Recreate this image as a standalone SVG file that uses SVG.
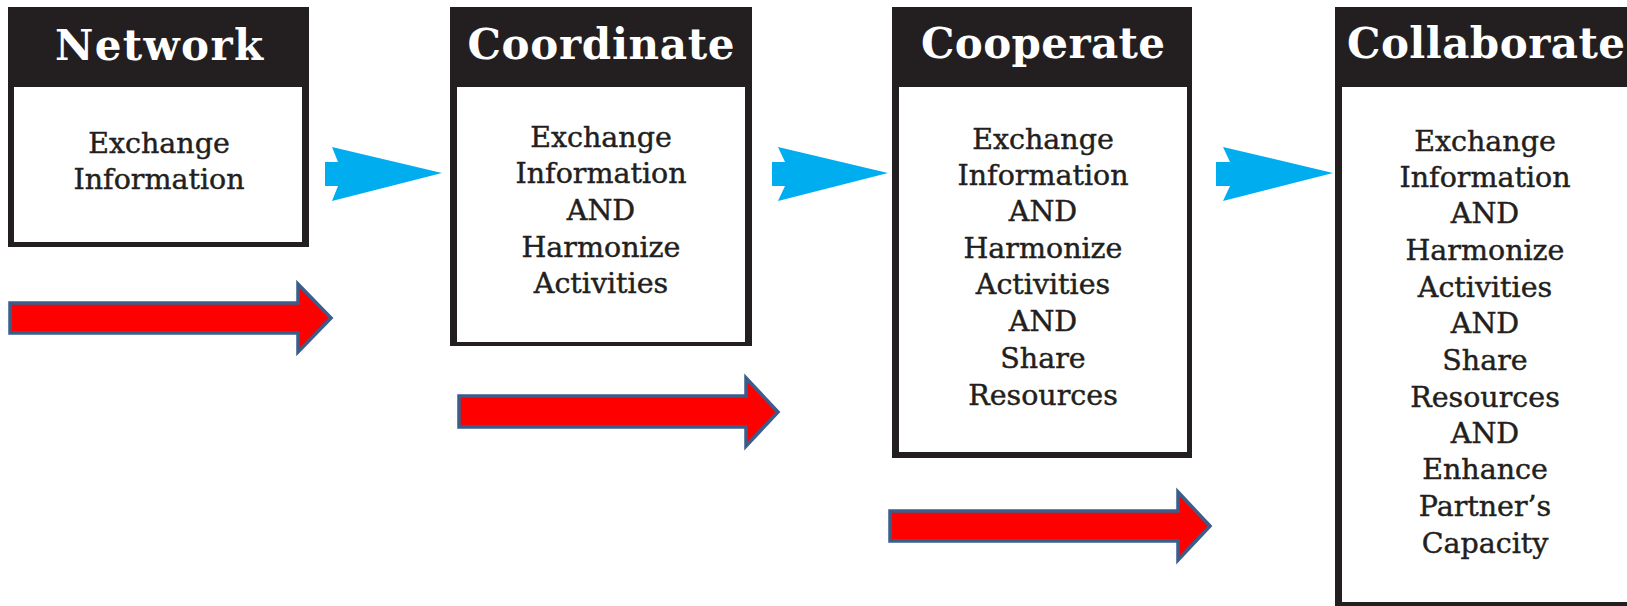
<svg xmlns="http://www.w3.org/2000/svg" width="1627" height="606" viewBox="0 0 1627 606">
<style>
.frame{fill:#231f20;}
.body{fill:#ffffff;}
.title{font-family:"DejaVu Serif","Liberation Serif",serif;font-weight:bold;font-size:42px;fill:#ffffff;text-anchor:middle;}
.txt{font-family:"DejaVu Serif","Liberation Serif",serif;font-size:28.5px;fill:#231f20;stroke:#231f20;stroke-width:0.45;text-anchor:middle;}
.blue{fill:#00aeef;}
.red{fill:#ff0000;stroke:#3a5d8c;stroke-width:3.5;stroke-linejoin:miter;}
</style>
<rect width="1627" height="606" fill="#ffffff"/>

<g id="network">
  <rect class="frame" x="8" y="7" width="301" height="240"/>
  <rect class="body" x="14" y="87" width="288" height="155"/>
  <text class="title" x="159" y="60" textLength="208">Network</text>
  <text class="txt" x="159" y="153">Exchange</text>
  <text class="txt" x="159" y="189">Information</text>
</g>

<g id="coordinate">
  <rect class="frame" x="450" y="7" width="302" height="339"/>
  <rect class="body" x="457" y="87" width="288" height="255"/>
  <text class="title" x="601" y="59" textLength="267">Coordinate</text>
  <text class="txt" x="601" y="147">Exchange</text>
  <text class="txt" x="601" y="183">Information</text>
  <text class="txt" x="601" y="220">AND</text>
  <text class="txt" x="601" y="257">Harmonize</text>
  <text class="txt" x="601" y="293">Activities</text>
</g>

<g id="cooperate">
  <rect class="frame" x="892" y="7" width="300" height="451"/>
  <rect class="body" x="899" y="87" width="288" height="365"/>
  <text class="title" x="1043" y="58" textLength="244">Cooperate</text>
  <text class="txt" x="1043" y="149">Exchange</text>
  <text class="txt" x="1043" y="185">Information</text>
  <text class="txt" x="1043" y="221">AND</text>
  <text class="txt" x="1043" y="258">Harmonize</text>
  <text class="txt" x="1043" y="294">Activities</text>
  <text class="txt" x="1043" y="331">AND</text>
  <text class="txt" x="1043" y="368">Share</text>
  <text class="txt" x="1043" y="405">Resources</text>
</g>

<g id="collaborate">
  <rect class="frame" x="1335" y="7" width="310" height="610"/>
  <rect class="body" x="1342" y="87" width="300" height="515"/>
  <text class="title" x="1486" y="58" textLength="278">Collaborate</text>
  <text class="txt" x="1485" y="151">Exchange</text>
  <text class="txt" x="1485" y="187">Information</text>
  <text class="txt" x="1485" y="223">AND</text>
  <text class="txt" x="1485" y="260">Harmonize</text>
  <text class="txt" x="1485" y="297">Activities</text>
  <text class="txt" x="1485" y="333">AND</text>
  <text class="txt" x="1485" y="370">Share</text>
  <text class="txt" x="1485" y="407">Resources</text>
  <text class="txt" x="1485" y="443">AND</text>
  <text class="txt" x="1485" y="479">Enhance</text>
  <text class="txt" x="1485" y="516">Partner’s</text>
  <text class="txt" x="1485" y="553">Capacity</text>
</g>

<g id="connectors">
  <polygon class="blue" points="325,162 338,162 332,147 442,173 332,201 338,186 325,186"/>
  <polygon class="blue" points="772,162 785,162 778,147 888,173 778,201 785,186 772,186"/>
  <polygon class="blue" points="1216,162 1230,162 1223,147 1333,173 1223,201 1230,186 1216,186"/>
</g>

<g id="progress-arrows">
  <polygon class="red" points="10,303 298,303 298,284 331,318 298,352 298,333 10,333"/>
  <polygon class="red" points="459,396 746,396 746,378 778,412 746,446 746,427 459,427"/>
  <polygon class="red" points="890,511 1178,511 1178,492 1210,526 1178,560 1178,541 890,541"/>
</g>
</svg>
